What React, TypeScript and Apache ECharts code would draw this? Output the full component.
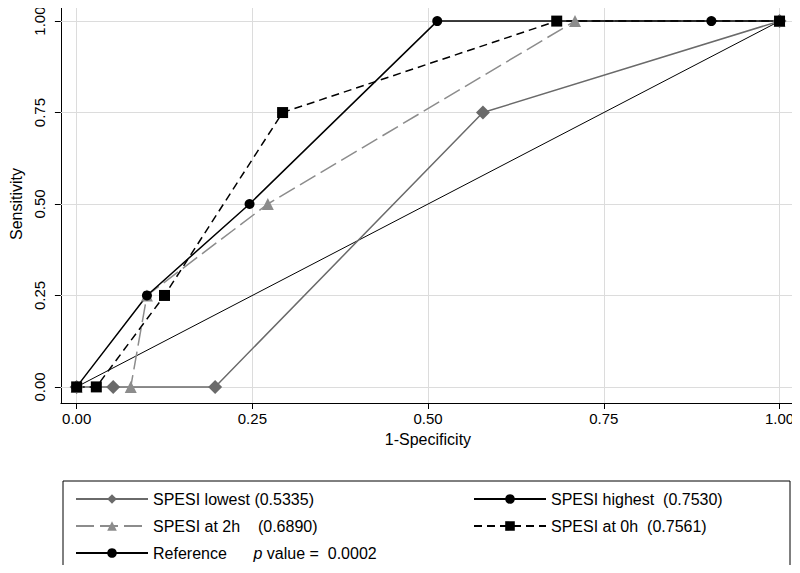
import React, { useEffect, useRef } from 'react';
import * as echarts from 'echarts';

const lowest = [[0, 0], [0.052, 0], [0.197, 0], [0.578, 0.75], [1, 1]];
const at2h = [[0, 0], [0.077, 0], [0.1, 0.25], [0.272, 0.5], [0.709, 1], [1, 1]];
const highest = [[0, 0], [0.1, 0.25], [0.246, 0.5], [0.513, 1], [0.903, 1], [1, 1]];
const at0h = [[0, 0], [0.028, 0], [0.125, 0.25], [0.293, 0.75], [0.683, 1], [1, 1]];
const reference = [[0, 0], [1, 1]];
const ticks = [0, 0.25, 0.5, 0.75, 1];

const App: React.FC = () => {
    const ref = useRef<HTMLDivElement>(null);

    useEffect(() => {
        if (!ref.current) return;
        const chart = echarts.init(ref.current, null, { renderer: 'svg' });
        const font = 'Liberation Sans, Arial, sans-serif';
        const fmt = (v: number) => v.toFixed(2);
        // grid lines across the full plot region
        const grid = [
            ...ticks.map(t => [{ coord: [t, -0.044] }, { coord: [t, 1.044] }]),
            ...ticks.map(t => [{ coord: [-0.0224, t] }, { coord: [1.022, t] }]),
        ];
        const legendText = { color: '#000', fontSize: 16, fontFamily: font };
        const mkLegend = (name: string, left: number, top: number, extra: any = {}) => ({
            data: [name], left, top, itemWidth: 72, itemHeight: 12, itemGap: 0,
            textStyle: {
                ...legendText,
                rich: { i: { ...legendText, fontStyle: 'italic' } },
            },
            formatter: (n: string) => n === 'Reference' ? 'Reference      {i|p} value =  0.0002' : n,
            selectedMode: false,
            ...extra,
        });
        chart.setOption({
            animation: false,
            backgroundColor: '#fff',
            grid: { left: 48, right: 5, top: 5, bottom: 170 },
            xAxis: {
                type: 'value', min: -0.0224, max: 1.022,
                name: '1-Specificity', nameLocation: 'middle', nameGap: 28,
                nameTextStyle: { color: '#000', fontSize: 16, fontFamily: font },
                axisLine: { show: true, onZero: false, lineStyle: { color: '#000' } },
                axisTick: { show: true, customValues: ticks, length: 6, lineStyle: { color: '#000' } },
                axisLabel: { customValues: ticks, formatter: fmt, color: '#000', fontSize: 15, fontFamily: font },
                splitLine: { show: false },
            },
            yAxis: {
                type: 'value', min: -0.044, max: 1.044,
                name: 'Sensitivity', nameLocation: 'middle', nameGap: 36,
                nameTextStyle: { color: '#000', fontSize: 16, fontFamily: font },
                axisLine: { show: true, onZero: false, lineStyle: { color: '#000' } },
                axisTick: { show: true, customValues: ticks, length: 6, lineStyle: { color: '#000' } },
                axisLabel: { customValues: ticks, formatter: fmt, color: '#000', fontSize: 15, fontFamily: font, rotate: 90, align: 'center', margin: 14 },
                splitLine: { show: false },
            },
            legend: [
                mkLegend('SPESI lowest (0.5335)', 70, 486),
                mkLegend('SPESI highest  (0.7530)', 468, 486),
                mkLegend('SPESI at 2h    (0.6890)', 70, 513),
                mkLegend('SPESI at 0h  (0.7561)', 468, 513),
                mkLegend('Reference', 70, 540),
            ],
            graphic: [{
                type: 'rect', shape: { x: 63, y: 481, width: 727, height: 88 },
                style: { fill: 'none', stroke: '#000', lineWidth: 1 },
            }],
            series: [
                {
                    name: 'Reference', type: 'line', data: reference, symbol: 'none', legendIcon: 'none',
                    lineStyle: { color: '#000', width: 1 }, itemStyle: { color: '#000' }, z: 3,
                    markLine: { symbol: 'none', silent: true, z: 1, label: { show: false }, lineStyle: { color: '#dcdcdc', type: 'solid', width: 1 }, data: grid },
                },
                { name: 'SPESI lowest (0.5335)', type: 'line', data: lowest, symbol: 'diamond', symbolSize: 14, showAllSymbol: true, lineStyle: { color: '#6a6a6a', width: 1.5 }, itemStyle: { color: '#6a6a6a' } },
                { name: 'SPESI at 2h    (0.6890)', type: 'line', data: at2h, symbol: 'triangle', symbolSize: 12, lineStyle: { color: '#8c8c8c', width: 1.5, type: [18, 6] }, itemStyle: { color: '#8c8c8c' } },
                { name: 'SPESI highest  (0.7530)', type: 'line', data: highest, symbol: 'circle', symbolSize: 10, lineStyle: { color: '#000', width: 1.5 }, itemStyle: { color: '#000' } },
                { name: 'SPESI at 0h  (0.7561)', type: 'line', data: at0h, symbol: 'rect', symbolSize: 11, lineStyle: { color: '#000', width: 1.5, type: [8, 5] }, itemStyle: { color: '#000' } },
            ],
        });
        return () => chart.dispose();
    }, []);

    return <div ref={ref} style={{ width: 800, height: 573, margin: -8 }} />;
};

export default App;
